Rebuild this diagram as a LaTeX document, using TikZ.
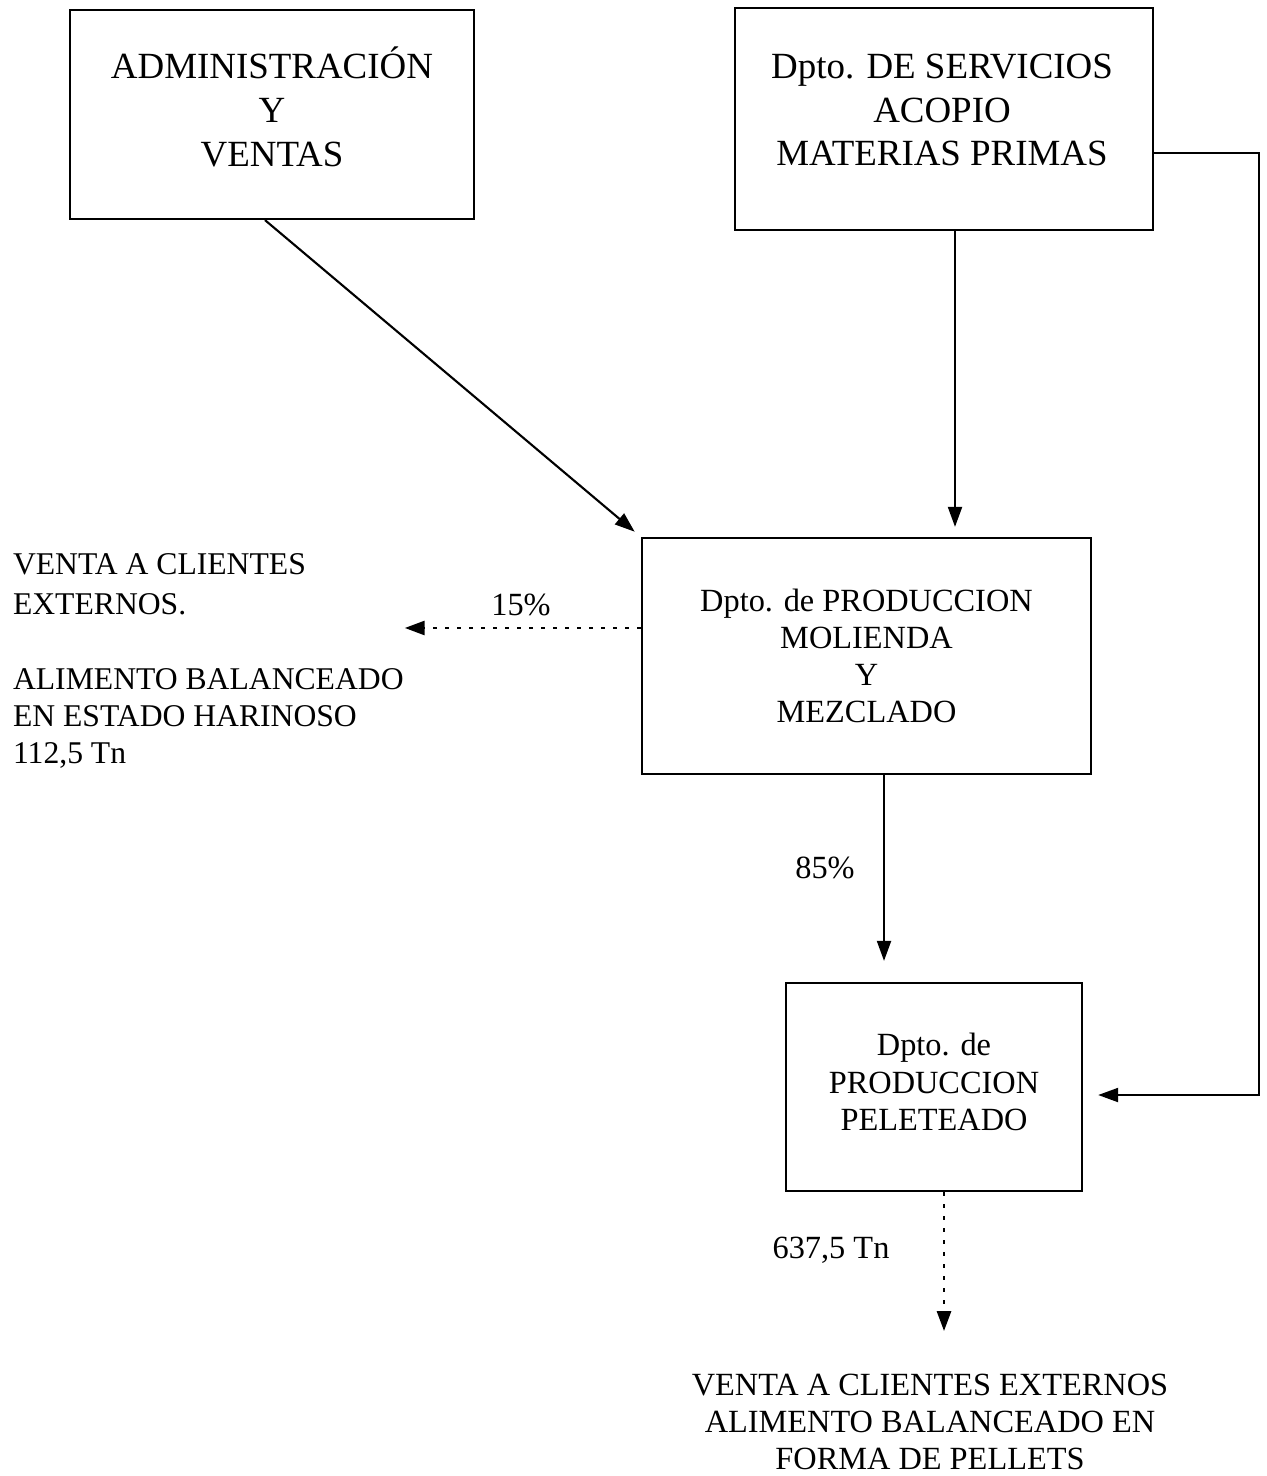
\documentclass[tikz,border=0pt]{standalone}
\usepackage{fontspec}
\setmainfont{Liberation Serif}
\usetikzlibrary{arrows.meta}

\begin{document}
\begin{tikzpicture}[x=0.01cm, y=-0.01cm, line width=0.6pt,
  every node/.style={align=center, font=\fontsize{9.2}{10.6}\selectfont},
  box/.style={draw, rectangle, inner sep=0pt},
  big/.style={font=\fontsize{10.5}{12.5}\selectfont},
  flow/.style={-{Triangle[length=2mm,width=1.4mm]}},
  dots/.style={flow, dash pattern=on 0.4mm off 0.8mm, line width=0.8pt}]
  \useasboundingbox (0,0) rectangle (1266,1476);
  \node[box, minimum width=4.04cm, minimum height=2.09cm,
    label={[big, yshift=0.8mm]center:{ADMINISTRACIÓN\\Y\\VENTAS}}] (admin) at (272,114.5) {};
  \node[box, minimum width=4.18cm, minimum height=2.22cm,
    label={[big, xshift=-0.2mm, yshift=0.9mm]center:{Dpto. DE SERVICIOS\\ACOPIO\\MATERIAS PRIMAS}}] (serv) at (944,119) {};
  \node[box, minimum width=4.49cm, minimum height=2.36cm] (mol) at (866.5,656) {Dpto. de PRODUCCION\\MOLIENDA\\Y\\MEZCLADO};
  \node[box, minimum width=2.96cm, minimum height=2.08cm,
    label={[yshift=0.5mm]center:{Dpto. de\\PRODUCCION\\PELETEADO}}] (pel) at (934,1087) {};
  \node[align=left, inner sep=0pt, anchor=west, font=\fontsize{9}{10.6}\selectfont] (harina) at (12,661) {VENTA A CLIENTES\\[0.8pt]EXTERNOS.\\[10.6pt]ALIMENTO BALANCEADO\\EN ESTADO HARINOSO\\112,5 Tn};
  \node (pellets) at (930,1422) {VENTA A CLIENTES EXTERNOS\\ALIMENTO BALANCEADO EN\\FORMA DE PELLETS};
  \node (p15) at (521,605) {15\%};
  \node (p85) at (825,868) {85\%};
  \node (tn) at (831,1250) {637,5 Tn};
  \draw[flow, shorten >=0.8mm] ([xshift=-0.7mm]admin.south) -- (mol.north west);
  \draw[flow, shorten >=1mm] ([xshift=1.1mm]serv.south) -- ([xshift=1.1mm]serv.south |- mol.north);
  \draw[flow, shorten >=1.5mm] ([yshift=-3.4mm]serv.east) -- ++(105,0) |- ([yshift=-0.8mm]pel.east);
  \draw[flow, shorten >=2.1mm] ([xshift=1.75mm]mol.south) -- ([xshift=1.75mm]mol.south |- pel.north);
  \draw[dots] ([yshift=2.8mm]mol.west) -- ([yshift=2.8mm]mol.west -| harina.east);
  \draw[dots, shorten >=3mm] ([xshift=1mm]pel.south) -- ([xshift=1mm]pel.south |- pellets.north);
\end{tikzpicture}
\end{document}
